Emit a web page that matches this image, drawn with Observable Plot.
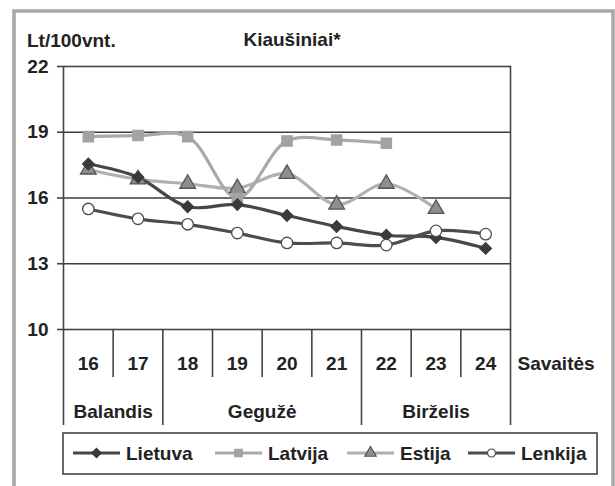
<!DOCTYPE html>
<html><head><meta charset="utf-8">
<script src="https://cdn.jsdelivr.net/npm/d3@7"></script>
<script src="https://cdn.jsdelivr.net/npm/@observablehq/plot@0.6"></script>
<style>body{margin:0;background:#fff} svg{display:block}</style>
</head><body><div id="chart"></div>
<script>
const weeks = [16,17,18,19,20,21,22,23,24];
const lietuva = [17.55,16.95,15.6,15.7,15.2,14.7,14.3,14.2,13.7];
const latvija = [18.8,18.85,18.8,16.0,18.6,18.65,18.5,null,null];
const estija = [17.3,16.85,16.65,16.45,17.1,15.7,16.65,15.5,null];
const lenkija = [15.5,15.05,14.8,14.4,13.95,13.95,13.85,14.5,14.35];
const yTicks = [10,13,16,19,22];
const gridTicks = [13,16,19];
const monthNames = ["Balandis","Gegužė","Birželis"];
const monthFrom = [16,18,22];
const monthTo = [17,21,24];
const seriesNames = ["Lietuva","Latvija","Estija","Lenkija"];
const title = "Kiaušiniai*";
const yUnit = "Lt/100vnt.";
const xName = "Savaitės";

const styles = {
  Lietuva: {stroke:"#474747", symbol:"diamond2", fill:"#3a3a3a", dotStroke:"#3a3a3a", r:5.2},
  Latvija: {stroke:"#a9a9a9", symbol:"square", fill:"#a3a3a3", dotStroke:"#a3a3a3", r:5.8},
  Estija: {stroke:"#b0b0b0", symbol:"triangle", fill:"#8e8e8e", dotStroke:"#555", r:5.8},
  Lenkija: {stroke:"#4d4d4d", symbol:"circle", fill:"#fff", dotStroke:"#4d4d4d", r:5.7}
};
const valuesBy = {Lietuva: lietuva, Latvija: latvija, Estija: estija, Lenkija: lenkija};
const rows = seriesNames.flatMap(s => weeks.map((w,i) => ({series:s, week:w, value:valuesBy[s][i]})));

const font = "'Liberation Sans', Arial, sans-serif";
const fs = 19;
const drawOrder = ["Estija","Latvija","Lietuva","Lenkija"];
const marks = [
  Plot.ruleY(gridTicks, {stroke:"#3d3d3d", strokeWidth:1.6}),
  Plot.frame({stroke:"#444", strokeWidth:1.6}),
  Plot.axisY(yTicks, {label:null, tickSize:6, tickPadding:9, fontSize:fs, fontWeight:"bold", fill:"#222", stroke:"#444", strokeWidth:1.6}),
];
for (const s of drawOrder) {
  const st = styles[s];
  const d = rows.filter(r => r.series === s && r.value != null);
  marks.push(Plot.line(d, {x:"week", y:"value", stroke:st.stroke, strokeWidth:3.2, curve:"catmull-rom"}));
}
for (const s of drawOrder) {
  const st = styles[s];
  const d = rows.filter(r => r.series === s && r.value != null);
  marks.push(Plot.dot(d, {x:"week", y:"value", symbol:()=>st.symbol, r:st.r, fill:st.fill, stroke:st.dotStroke, strokeWidth:1.3}));
}
const inner = [16.5,18.5,19.5,20.5,22.5,23.5];
const outer = [15.5, ...monthTo.map(t => t + 0.5)];
marks.push(Plot.ruleX(inner, {stroke:"#444", strokeWidth:1.6, insetTop:263, insetBottom:-48}));
marks.push(Plot.ruleX(outer, {stroke:"#444", strokeWidth:1.6, insetTop:263, insetBottom:-96}));
marks.push(Plot.text(weeks, {x:d=>d, y:()=>10, text:d=>String(d), dy:34, fontSize:fs, fontWeight:"bold", fill:"#222"}));
marks.push(Plot.text(monthNames, {x:(d,i)=>(monthFrom[i]+monthTo[i])/2, y:()=>10, text:d=>d, dy:82, fontSize:fs, fontWeight:"bold", fill:"#222"}));
marks.push(Plot.text([xName], {x:()=>24.5, y:()=>10, text:d=>d, dx:7, dy:34, textAnchor:"start", fontSize:fs, fontWeight:"bold", fill:"#222"}));

const chart = Plot.plot({
  width:615, height:486,
  marginLeft:63, marginRight:105, marginTop:66, marginBottom:157,
  style:{fontFamily:font, background:"#fff", overflow:"visible"},
  x:{domain:[15.5,24.5], axis:null},
  y:{domain:[10,22], axis:null},
  marks
});
document.getElementById("chart").appendChild(chart);

const svg = d3.select(chart);
svg.append("path").attr("d","M14,486 V11 H613 V486").attr("fill","none").attr("stroke","#a8a8a8").attr("stroke-width",3.5);
svg.append("text").attr("x",292).attr("y",39).attr("dy","0.35em").attr("text-anchor","middle")
  .attr("font-family",font).attr("font-size",fs).attr("font-weight","bold").attr("fill","#222").text(title);
svg.append("text").attr("x",27).attr("y",40).attr("dy","0.35em").attr("text-anchor","start")
  .attr("font-family",font).attr("font-size",fs).attr("font-weight","bold").attr("fill","#222").text(yUnit);
const lg = svg.append("g").attr("text-anchor","start");
lg.append("rect").attr("x",63).attr("y",433).attr("width",534).attr("height",41).attr("fill","#fff").attr("stroke","#444").attr("stroke-width",1.6);
const legX = [73, 215, 347, 468];
const symMap = {diamond2: d3.symbolDiamond2, square: d3.symbolSquare, triangle: d3.symbolTriangle, circle: d3.symbolCircle};
seriesNames.forEach((s,i) => {
  const st = styles[s];
  const x0 = legX[i], y0 = 453;
  lg.append("line").attr("x1",x0).attr("x2",x0+47).attr("y1",y0).attr("y2",y0).attr("stroke",st.stroke).attr("stroke-width",3);
  const sz = s === "Lenkija" ? 4 : 4.2;
  lg.append("path").attr("d", d3.symbol(symMap[st.symbol], Math.PI*sz*sz)())
    .attr("transform",`translate(${x0+23.5},${y0})`).attr("fill",st.fill).attr("stroke",st.dotStroke).attr("stroke-width",1.2);
  lg.append("text").attr("x",x0+53).attr("y",y0).attr("dy","0.35em").attr("text-anchor","start").attr("font-family",font).attr("font-size",fs)
    .attr("font-weight","bold").attr("fill","#222").text(s);
});
</script></body></html>
